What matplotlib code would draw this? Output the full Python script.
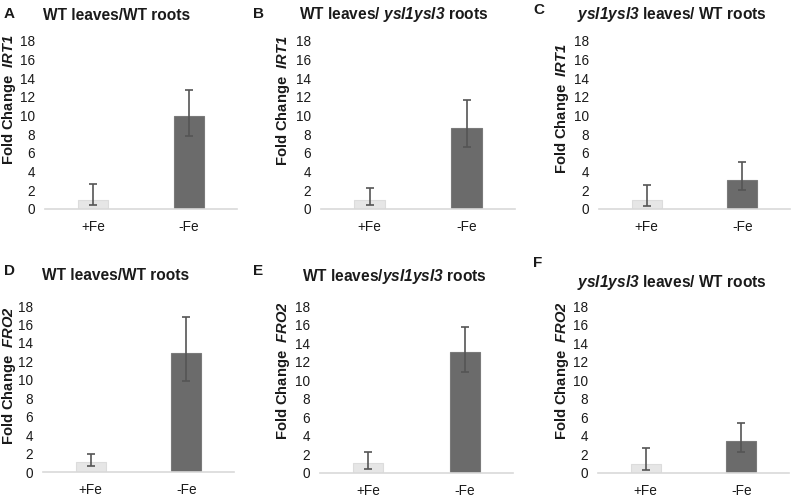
import matplotlib
matplotlib.use("Agg")
import matplotlib.pyplot as plt

plt.rcParams['font.family'] = ['Liberation Sans', 'DejaVu Sans']
plt.rcParams['mathtext.fontset'] = 'custom'
plt.rcParams['mathtext.rm'] = 'Liberation Sans'
plt.rcParams['mathtext.it'] = 'Liberation Sans:italic'
plt.rcParams['mathtext.bf'] = 'Liberation Sans:bold'
plt.rcParams['mathtext.bfit'] = 'Liberation Sans:italic:bold'

categories = ["+Fe", "-Fe"]
yticks = [0, 2, 4, 6, 8, 10, 12, 14, 16, 18]

panel_letters = ["A", "B", "C", "D", "E", "F"]
titles = [
    "WT leaves/WT roots",
    "WT leaves/ $\\mathbfit{ysl1ysl3}$ roots",
    "$\\mathbfit{ysl1ysl3}$ leaves/ WT roots",
    "WT leaves/WT roots",
    "WT leaves/$\\mathbfit{ysl1ysl3}$ roots",
    "$\\mathbfit{ysl1ysl3}$ leaves/ WT roots",
]
genes = ["IRT1", "IRT1", "IRT1", "FRO2", "FRO2", "FRO2"]

# mean fold change for (+Fe, -Fe)
means_A = [1.0, 10.0]
means_B = [1.0, 8.7]
means_C = [1.0, 3.1]
means_D = [1.1, 12.9]
means_E = [1.1, 13.0]
means_F = [1.0, 3.4]
# error-bar endpoints (upper, lower)
upper_A = [2.7, 12.8]
lower_A = [0.45, 7.8]
upper_B = [2.2, 11.7]
lower_B = [0.45, 6.6]
upper_C = [2.6, 5.0]
lower_C = [0.35, 2.0]
upper_D = [2.0, 16.8]
lower_D = [0.6, 9.9]
upper_E = [2.3, 15.7]
lower_E = [0.45, 10.9]
upper_F = [2.7, 5.4]
lower_F = [0.35, 2.3]

means = [means_A, means_B, means_C, means_D, means_E, means_F]
uppers = [upper_A, upper_B, upper_C, upper_D, upper_E, upper_F]
lowers = [lower_A, lower_B, lower_C, lower_D, lower_E, lower_F]

W, H = 793, 497
fig = plt.figure(figsize=(W / 100, H / 100), dpi=100)

# axes boxes in pixel coords: (x0, x1, y_zero, y_top)
boxes = [
    (45, 237, 209, 41),
    (321, 515, 209, 41),
    (599, 790, 209, 41),
    (43, 234, 472, 306),
    (320, 513, 473, 306),
    (598, 789, 473, 306),
]
title_pos = [(117, 15), (394, 15), (672, 14), (116, 276), (394, 277), (672, 282)]
letter_pos = [(4, 14), (253, 14), (533, 10), (4, 271), (253, 271), (533, 263)]
ylabel_pos = [(9, 100), (283, 101), (562, 109), (9, 376), (283, 371), (562, 371)]

bar_colors = ["#e6e6e6", "#6b6b6b"]
edge_colors = ["#dcdcdc", "#7a7a7a"]
text_col = "#1a1a1a"

for i in range(6):
    x0, x1, yz, yt = boxes[i]
    ax = fig.add_axes([x0 / W, 1 - yz / H, (x1 - x0) / W, (yz - yt) / H])
    m = means[i]
    yerr = [[m[j] - lowers[i][j] for j in range(2)],
            [uppers[i][j] - m[j] for j in range(2)]]
    ax.bar(range(len(categories)), m, width=0.31, color=bar_colors,
           edgecolor=edge_colors, linewidth=0.8, zorder=2)
    ax.errorbar(range(len(categories)), m, yerr=yerr, fmt='none',
                ecolor="#555555", elinewidth=1.2, capsize=3.2, capthick=1.2, zorder=3)
    ax.set_xlim(-0.5, 1.5)
    ax.set_ylim(0, 18)
    ax.set_yticks(yticks)
    ax.set_xticks(range(len(categories)))
    ax.set_xticklabels(categories)
    ax.tick_params(axis='both', length=0, labelsize=9.8, colors=text_col)
    ax.tick_params(axis='y', pad=7)
    ax.tick_params(axis='x', pad=8)
    for s in ["top", "right", "left"]:
        ax.spines[s].set_visible(False)
    ax.spines["bottom"].set_color("#d9d9d9")
    ax.spines["bottom"].set_linewidth(1.2)
    ax.set_facecolor("none")

    tx, ty = title_pos[i]
    fig.text(tx / W, 1 - ty / H, titles[i], ha='center', va='center',
             fontsize=11.2, fontweight='bold', color=text_col)
    lx, ly = letter_pos[i]
    fig.text(lx / W, 1 - ly / H, panel_letters[i], ha='left', va='center',
             fontsize=11, fontweight='bold', color=text_col)
    yx, yy = ylabel_pos[i]
    fig.text(yx / W, 1 - yy / H, "Fold Change  $\\mathbfit{" + genes[i] + "}$",
             rotation=90, ha='center', va='center', fontsize=10.6,
             fontweight='bold', color=text_col)

fig.savefig("out.png", dpi=100)
